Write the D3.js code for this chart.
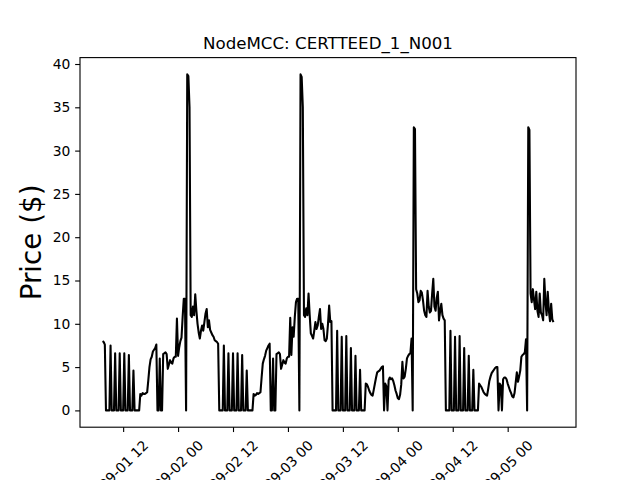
<!DOCTYPE html>
<html>
<head>
<script src="https://d3js.org/d3.v7.min.js"></script>
<style>
  body { margin: 0; background: #fff; }
  text { font-family: "DejaVu Sans", sans-serif; }
</style>
</head>
<body>
<svg id="chart" width="640" height="480"></svg>
<script>
const chartTitle = "NodeMCC: CERTTEED_1_N001";
const yLabel = "Price ($)";
const startTime = "2020-09-01T07:30:00Z";
const stepMinutes = 15;

// one row per hour, 15-minute intervals
const prices = [
  8.0, 7.9, 7.6,
  0, 0, 0, 0,
  7.5, 0, 0, 0,
  6.6, 0, 0, 0,
  6.6, 0, 0, 0,
  6.6, 0, 0, 0,
  6.4, 0, 0, 0,
  4.6, 0, 0, 0,
  0, 0, 1.9, 1.7,
  2.0, 1.9, 1.9, 2.0,
  2.1, 3.5, 5.0, 5.9,
  6.2, 6.8, 7.0, 7.2,
  7.6, 0, 0, 6.0,
  0, 0, 6.5, 6.6,
  6.7, 6.5, 4.8, 5.3,
  5.8, 5.5, 5.4, 6.0,
  6.2, 6.2, 10.6, 6.3,
  7.3, 8.0, 8.4, 10.8,
  12.9, 12.9, 0, 38.8,
  38.6, 35.0, 11.0, 10.8,
  12.0, 11.0, 13.4, 11.5,
  10.0, 9.0, 8.3, 9.2,
  9.8, 9.2, 10.2, 11.2,
  11.7, 9.6, 10.4, 9.3,
  9.0, 8.7, 8.5, 8.1,
  8.0, 7.9, 7.7, 0,
  0, 0, 0, 7.5,
  0, 0, 0, 6.6,
  0, 0, 0, 6.6,
  0, 0, 0, 6.6,
  0, 0, 0, 6.4,
  0, 0, 0, 4.6,
  0, 0, 0, 0,
  0, 1.9, 1.7, 1.8,
  2.0, 1.9, 2.0, 2.1,
  3.8, 5.4, 5.9, 6.3,
  6.9, 7.2, 7.5, 7.7,
  0, 0, 6.0, 0,
  0, 6.5, 6.6, 6.7,
  6.5, 4.8, 5.3, 5.8,
  5.5, 5.4, 6.0, 6.2,
  6.2, 10.7, 6.4, 9.6,
  8.5, 10.8, 12.5, 12.9,
  12.9, 0, 38.8, 38.5,
  35.0, 11.0, 10.8, 11.8,
  11.0, 13.5, 11.0, 8.9,
  8.6, 8.3, 9.2, 10.2,
  9.4, 9.8, 10.8, 11.7,
  9.4, 10.0, 9.4, 8.1,
  8.0, 8.3, 10.0, 12.1,
  10.2, 10.3, 0, 0,
  0, 0, 9.2, 0,
  0, 0, 8.5, 0,
  0, 0, 8.6, 0,
  0, 0, 7.2, 0,
  0, 0, 6.3, 0,
  0, 0, 4.7, 0,
  0, 0, 0, 3.1,
  3.0, 2.7, 2.3, 2.0,
  1.8, 1.7, 2.4, 3.1,
  3.8, 4.4, 4.5, 4.6,
  4.8, 5.0, 5.1, 0,
  3.1, 2.8, 0, 3.5,
  3.8, 3.6, 3.7, 3.4,
  2.9, 2.3, 1.9, 1.4,
  1.3, 1.8, 3.0, 5.6,
  3.7, 3.9, 4.8, 6.0,
  6.3, 6.5, 6.6, 8.3,
  0, 32.7, 32.5, 14.0,
  13.5, 12.5, 12.7, 13.8,
  13.6, 12.7, 11.5, 11.0,
  10.8, 13.8, 12.0, 11.3,
  11.5, 13.5, 15.2, 12.0,
  11.5, 13.0, 13.7, 10.4,
  11.5, 12.3, 11.0, 10.6,
  10.4, 0, 0, 0,
  0, 9.2, 0, 0,
  0, 8.5, 0, 0,
  0, 8.6, 0, 0,
  0, 7.2, 0, 0,
  0, 6.3, 0, 0,
  0, 4.7, 0, 0,
  0, 0, 3.1, 2.9,
  2.7, 2.4, 2.1, 1.9,
  1.8, 1.7, 2.5, 3.4,
  3.9, 4.3, 4.5, 4.7,
  4.9, 5.0, 5.0, 0,
  3.1, 2.9, 0, 3.6,
  3.8, 3.8, 3.6, 3.1,
  2.7, 2.3, 2.0, 1.6,
  1.5, 2.0, 3.2, 4.4,
  3.3, 3.9, 4.6, 6.2,
  6.4, 6.5, 6.7, 8.2,
  0, 32.7, 32.4, 13.5,
  12.5, 14.0, 12.8, 11.7,
  13.7, 11.5, 10.8, 13.5,
  11.3, 11.0, 10.4, 15.2,
  12.5, 11.0, 13.7, 11.5,
  10.3, 12.3, 10.5, 10.2
];

const xTickTimes = [
  "2020-09-01T12:00:00Z", "2020-09-02T00:00:00Z", "2020-09-02T12:00:00Z",
  "2020-09-03T00:00:00Z", "2020-09-03T12:00:00Z", "2020-09-04T00:00:00Z",
  "2020-09-04T12:00:00Z", "2020-09-05T00:00:00Z"
];
const yTicks = [0, 5, 10, 15, 20, 25, 30, 35, 40];

const svg = d3.select('svg#chart');
const width = +svg.attr('width');
const height = +svg.attr('height');
const margins = { top: 57.6, right: 64, bottom: 52.8, left: 80 };
const chartWidth = width - margins.left - margins.right;
const chartHeight = height - margins.top - margins.bottom;

const tickLen = 4.86;
const tickFont = 13.89;

const t0 = Date.parse(startTime);
const data = prices.map((p, i) => ({ time: new Date(t0 + i * stepMinutes * 60000), price: p }));

const xExt = d3.extent(data, d => +d.time);
const xPad = (xExt[1] - xExt[0]) * 0.05;
const xScale = d3.scaleUtc()
                 .domain([new Date(xExt[0] - xPad), new Date(xExt[1] + xPad)])
                 .range([0, chartWidth]);

const yMax = d3.max(prices), yMin = d3.min(prices);
const yPad = (yMax - yMin) * 0.05;
const yScale = d3.scaleLinear()
                 .domain([yMin - yPad, yMax + yPad])
                 .range([chartHeight, 0]);

const chartArea = svg.append('g')
                     .attr('transform', `translate(${margins.left}, ${margins.top})`);

// line
const line = d3.line()
               .x(d => xScale(d.time))
               .y(d => yScale(d.price));

chartArea.append('path')
         .datum(data)
         .attr('d', line)
         .attr('fill', 'none')
         .attr('stroke', '#000')
         .attr('stroke-width', 2.08)
         .attr('stroke-linejoin', 'round');

// frame
chartArea.append('rect')
         .attr('width', chartWidth)
         .attr('height', chartHeight)
         .attr('fill', 'none')
         .attr('stroke', '#000')
         .attr('stroke-width', 1.11);

// x axis
const xAxis = chartArea.append('g')
     .attr('transform', `translate(0, ${chartHeight})`)
     .call(d3.axisBottom(xScale)
             .tickValues(xTickTimes.map(s => new Date(s)))
             .tickFormat(d3.utcFormat('%m-%d %H'))
             .tickSize(tickLen)
             .tickPadding(tickLen));
xAxis.select('.domain').remove();
xAxis.selectAll('line').attr('stroke', '#000').attr('stroke-width', 1.11);
xAxis.selectAll('text')
     .attr('fill', '#000')
     .style('font-size', tickFont + 'px')
     .style('font-family', '"DejaVu Sans"')
     .attr('y', null)
     .attr('dy', null)
     .attr('text-anchor', 'middle')
     .attr('dominant-baseline', 'central')
     .attr('transform', function() {
         const w = this.getComputedTextLength();
         const h = tickFont * 1.164;
         const boxH = (w + h) / Math.SQRT2;
         return `translate(0, ${tickLen * 2 + boxH / 2}) rotate(-45)`;
     });

// y axis
const yAxis = chartArea.append('g')
     .call(d3.axisLeft(yScale)
             .tickValues(yTicks)
             .tickSize(tickLen)
             .tickPadding(tickLen));
yAxis.select('.domain').remove();
yAxis.selectAll('line').attr('stroke', '#000').attr('stroke-width', 1.11);
yAxis.selectAll('text')
     .attr('fill', '#000')
     .style('font-size', tickFont + 'px')
     .style('font-family', '"DejaVu Sans"');

// title
svg.append('text')
   .attr('x', margins.left + chartWidth / 2)
   .attr('y', margins.top - 8.33)
   .attr('text-anchor', 'middle')
   .style('font-size', '16.67px')
   .text(chartTitle);

// y label
svg.append('text')
   .attr('transform', `translate(40.5, ${margins.top + chartHeight / 2}) rotate(-90)`)
   .attr('text-anchor', 'middle')
   .style('font-size', '27.78px')
   .text(yLabel);
</script>
</body>
</html>
